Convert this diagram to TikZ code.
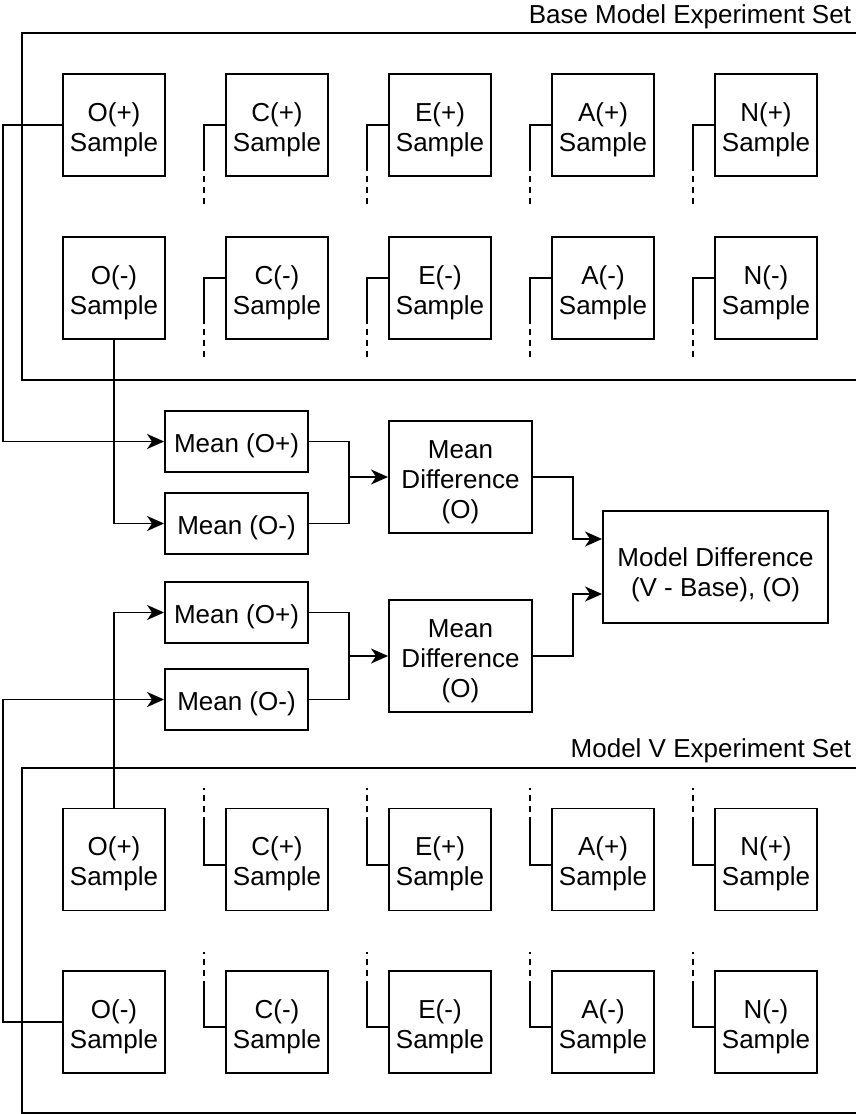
\documentclass[tikz,border=0pt]{standalone}
\usepackage{fontspec}
\setmainfont{Liberation Sans}
\usetikzlibrary{arrows.meta}
% centred lines of text, set lower in the box by #1
\newcommand\boxtext[2]{\raisebox{-#1}[\height][\depth]{\begin{tabular}{@{}c@{}}#2\end{tabular}}}
\begin{document}
\begin{tikzpicture}[x=1pt,y=-1pt,
  line width=1.9pt,
  every node/.style={font=\fontsize{26}{30}\selectfont},
  box/.style={draw, line width=1.9pt, inner sep=0pt},
  sample/.style={box, minimum width=102pt, minimum height=102pt},
  meanbox/.style={box, minimum width=143pt, minimum height=61pt},
  diffbox/.style={box, minimum width=143pt, minimum height=112pt},
  modelbox/.style={box, minimum width=225pt, minimum height=112pt},
  arr/.style={-{Stealth[length=17pt,width=15pt,inset=5pt]}},
  stubdash/.style={dash pattern=on 6pt off 5pt},
  frame/.style={line width=1.9pt},
  settitle/.style={anchor=base east, inner sep=0pt}
]
\useasboundingbox (0,0) rectangle (856,1114);

% experiment set frames (open on the right)
\draw[frame] (860,33) -- (22,33) -- (22,380) -- (860,380);
\draw[frame] (860,768) -- (22,768) -- (22,1113) -- (860,1113);
\node[settitle] (ttlBase) at (852,23) {Base Model Experiment Set};
\node[settitle] (ttlV) at (852,757) {Model V Experiment Set};

% sample boxes
\foreach \L [count=\i from 0] in {O,C,E,A,N} {
  \node[sample] (tp\L) at (114+163*\i,125) {\boxtext{5pt}{\L(+)\\Sample}};
  \node[sample] (tm\L) at (114+163*\i,288) {\boxtext{5pt}{\L(-)\\Sample}};
  \node[sample] (bp\L) at (114+163*\i,859.5) {\boxtext{5pt}{\L(+)\\Sample}};
  \node[sample] (bm\L) at (114+163*\i,1022) {\boxtext{5pt}{\L(-)\\Sample}};
}

% unfinished links of the other traits
\foreach \L in {C,E,A,N} {
  \draw (tp\L.west) -- ++(-21,0) -- ++(0,40) coordinate (tpe\L);
  \draw[stubdash] (tpe\L) -- ++(0,42);
  \draw ([yshift=10pt]tm\L.west) -- ++(-21,0) -- ++(0,40) coordinate (tme\L);
  \draw[stubdash] (tme\L) -- ++(0,42);
  \draw ([yshift=-5.5pt]bp\L.west) -- ++(-21,0) -- ++(0,-42) coordinate (bpe\L);
  \draw[stubdash] (bpe\L) -- ++(0,-35);
  \draw ([yshift=-5pt]bm\L.west) -- ++(-21,0) -- ++(0,-40) coordinate (bme\L);
  \draw[stubdash] (bme\L) -- ++(0,-35);
}

% aggregation boxes
\node[meanbox] (m1p) at (236.5,441.5) {\boxtext{5pt}{Mean (O+)}};
\node[meanbox] (m1m) at (236.5,523.5) {\boxtext{5pt}{Mean (O-)}};
\node[diffbox] (d1) at (460.5,477) {\boxtext{5pt}{Mean\\Difference\\(O)}};
\node[meanbox] (m2p) at (236.5,612.5) {\boxtext{5pt}{Mean (O+)}};
\node[meanbox] (m2m) at (236.5,699.5) {\boxtext{5pt}{Mean (O-)}};
\node[diffbox] (d2) at (460.5,656) {\boxtext{5pt}{Mean\\Difference\\(O)}};
\node[modelbox] (md) at (715.5,567) {\boxtext{8pt}{Model Difference\\(V - Base), (O)}};

% routing columns
\coordinate (busL) at (3,0);
\coordinate (busM) at (349,0);
\coordinate (busR) at (573,0);
\coordinate (j1) at (busM |- d1.west);
\coordinate (j2) at (busM |- d2.west);

% base model
\draw[arr] (tpO.west) -- (tpO.west -| busL) |- (m1p.west);
\draw[arr] (tmO.south) |- (m1m.west);
\draw (m1p.east) -| (j1);
\draw (m1m.east) -| (j1);
\draw[arr] (j1) -- (d1.west);

% model V
\draw[arr] (bpO.north) |- (m2p.west);
\draw[arr] (bmO.west) -- (bmO.west -| busL) |- (m2m.west);
\draw (m2p.east) -| (j2);
\draw (m2m.east) -| (j2);
\draw[arr] (j2) -- (d2.west);

% model difference
\draw[arr] (d1.east) -- (d1.east -| busR) |- ([yshift=28pt]md.west);
\draw[arr] (d2.east) -- (d2.east -| busR) |- ([yshift=-27pt]md.west);
\end{tikzpicture}
\end{document}
